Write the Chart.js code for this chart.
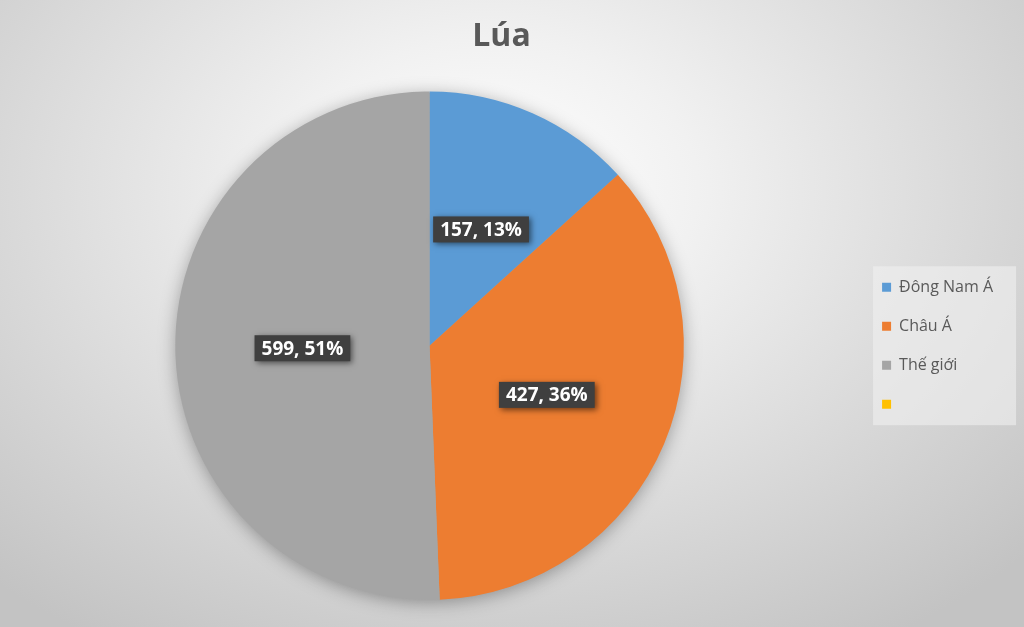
<!DOCTYPE html>
<html>
<head>
<meta charset="utf-8">
<script src="https://cdn.jsdelivr.net/npm/chart.js@4.4.0/dist/chart.umd.min.js"></script>
<style>
  html, body { margin: 0; padding: 0; }
  body {
    width: 1024px; height: 627px; overflow: hidden;
    background: radial-gradient(ellipse 72% 85% at 48% 30%, #ffffff 0%, #f1f1f1 28%, #d6d6d6 70%, #c3c3c3 100%);
  }
  #wrap { position: relative; width: 1024px; height: 627px; }
</style>
</head>
<body>
<div id="wrap"><canvas id="riceChart"></canvas></div>
<script>
// data
const regions = ['Đông Nam Á', 'Châu Á', 'Thế giới', ''];
const riceValues = [157, 427, 599, 0];
const sliceColors = ['#5B9BD5', '#ED7D31', '#A5A5A5', '#FFC000'];
const chartTitle = 'Lúa';

const FONT = '"Open Sans", Lato, sans-serif';

// soft shadow under the whole pie
const pieShadow = {
  id: 'pieShadow',
  beforeDatasetsDraw(chart) {
    const arc = chart.getDatasetMeta(0).data[0];
    if (!arc) return;
    const ctx = chart.ctx;
    ctx.save();
    ctx.shadowColor = 'rgba(0,0,0,0.35)';
    ctx.shadowBlur = 18;
    ctx.shadowOffsetY = 3;
    ctx.fillStyle = '#A5A5A5';
    ctx.beginPath();
    ctx.arc(arc.x, arc.y, arc.outerRadius - 1, 0, Math.PI * 2);
    ctx.fill();
    ctx.restore();
  }
};

// light panel behind the legend
const legendPanel = {
  id: 'legendPanel',
  beforeDraw(chart) {
    const boxes = chart.legend && chart.legend.legendHitBoxes;
    if (!boxes || !boxes.length) return;
    const first = boxes[0], last = boxes[boxes.length - 1];
    const left = first.left - 9;
    const top = first.top - 13;
    const bottom = last.top + last.height + 13;
    const ctx = chart.ctx;
    ctx.save();
    ctx.fillStyle = 'rgba(240,240,240,0.6)';
    ctx.fillRect(left, top, 143, bottom - top);
    ctx.restore();
  }
};

// "value, pct%" boxes on the slices
const sliceLabels = {
  id: 'sliceLabels',
  afterDatasetsDraw(chart) {
    const ctx = chart.ctx;
    const data = chart.data.datasets[0].data;
    const total = data.reduce((a, b) => a + b, 0);
    chart.getDatasetMeta(0).data.forEach((arc, i) => {
      if (!data[i]) return;
      const pos = arc.tooltipPosition();
      const text = data[i] + ', ' + Math.round(data[i] / total * 100) + '%';
      ctx.save();
      ctx.font = 'bold 19px ' + FONT;
      const w = ctx.measureText(text).width + 14;
      const h = 26;
      ctx.shadowColor = 'rgba(0,0,0,0.55)';
      ctx.shadowBlur = 6;
      ctx.shadowOffsetX = 2;
      ctx.shadowOffsetY = 2;
      ctx.fillStyle = '#3f3f3f';
      ctx.fillRect(pos.x - w / 2, pos.y - h / 2, w, h);
      ctx.shadowColor = 'transparent';
      ctx.fillStyle = '#ffffff';
      ctx.textAlign = 'center';
      ctx.textBaseline = 'middle';
      ctx.fillText(text, pos.x, pos.y + 1);
      ctx.restore();
    });
  }
};

new Chart(document.getElementById('riceChart'), {
  type: 'pie',
  data: {
    labels: regions,
    datasets: [{
      data: riceValues,
      backgroundColor: sliceColors,
      borderWidth: 0
    }]
  },
  options: {
    responsive: true,
    maintainAspectRatio: false,
    animation: false,
    layout: { padding: { top: 0, bottom: 27, left: 0, right: 21 } },
    plugins: {
      title: {
        display: true,
        text: chartTitle,
        color: '#595959',
        font: { family: FONT, size: 32, weight: 'bold' },
        padding: { top: 18, bottom: 35 }
      },
      legend: {
        position: 'right',
        fullSize: false,
        labels: {
          boxWidth: 9,
          boxHeight: 9,
          padding: 23,
          color: '#595959',
          font: { family: FONT, size: 16 }
        }
      },
      tooltip: { enabled: false }
    }
  },
  plugins: [pieShadow, legendPanel, sliceLabels]
});
</script>
</body>
</html>
